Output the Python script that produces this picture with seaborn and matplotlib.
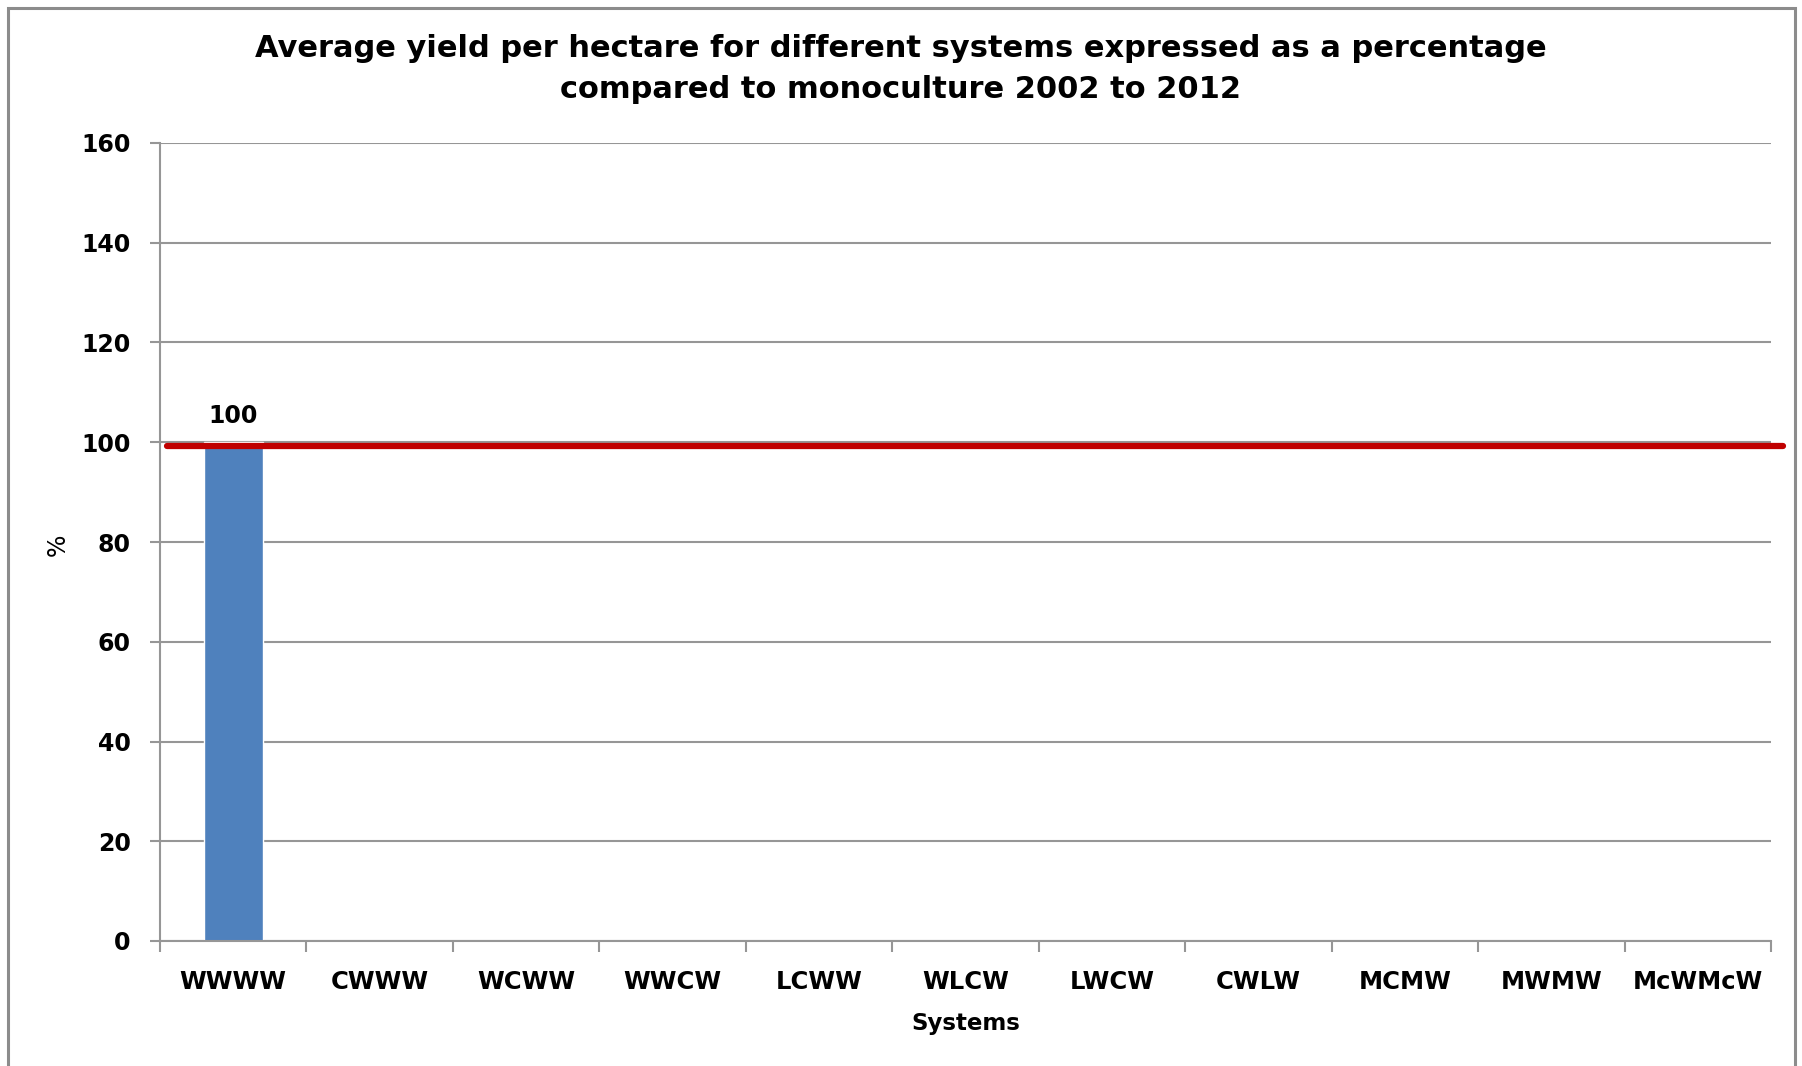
import numpy as np
import pandas as pd
import matplotlib
matplotlib.use("Agg")
import matplotlib.pyplot as plt
from matplotlib.patches import Rectangle
from matplotlib.ticker import FixedLocator
import seaborn as sns

# Yield per hectare relative to monoculture (%), 2002-2012
systems = ["WWWW", "CWWW", "WCWW", "WWCW", "LCWW", "WLCW",
           "LWCW", "CWLW", "MCMW", "MWMW", "McWMcW"]
yield_pct = [100, np.nan, np.nan, np.nan, np.nan, np.nan,
             np.nan, np.nan, np.nan, np.nan, np.nan]
monoculture_ref = 99.3
y_ticks = [0, 20, 40, 60, 80, 100, 120, 140, 160]

title_text = ("Average yield per hectare for different systems expressed as a percentage\n"
              "compared to monoculture 2002 to 2012")

df = pd.DataFrame({"system": systems, "pct": yield_pct})

sns.set_theme(style="white")
plt.rcParams["font.family"] = ["DejaVu Sans"]
plt.rcParams["text.color"] = "black"
plt.rcParams["xtick.color"] = "black"
plt.rcParams["ytick.color"] = "black"
plt.rcParams["axes.labelcolor"] = "black"

W, H, DPI = 1802, 1066, 100
fig = plt.figure(figsize=(W / DPI, H / DPI), dpi=DPI, facecolor="white")
ax = fig.add_axes([160 / W, 1 - 941 / H, (1771 - 160) / W, (941 - 143) / H])

sns.barplot(data=df, x="system", y="pct", order=systems, color="#4F81BD",
            saturation=1, width=0.4, ax=ax, errorbar=None)

ax.set_ylim(0, 160)
ax.set_xlim(-0.5, len(systems) - 0.5)
ax.yaxis.set_major_locator(FixedLocator(y_ticks))
ax.grid(axis="y", color="#969696", linewidth=1.5)
ax.set_axisbelow(True)

for side in ["top", "right"]:
    ax.spines[side].set_visible(False)
for side in ["left", "bottom"]:
    ax.spines[side].set_color("#969696")
    ax.spines[side].set_linewidth(1.5)

# category separators as x ticks between bars
ax.xaxis.set_minor_locator(FixedLocator(np.arange(-0.5, len(systems), 1.0)))
ax.tick_params(axis="x", which="minor", bottom=True, length=8, width=1.5,
               color="#969696", direction="out")
ax.tick_params(axis="x", which="major", bottom=False, length=0, pad=21,
               labelsize=17.5)
ax.tick_params(axis="y", which="major", left=True, length=7, width=1.5,
               color="#969696", direction="out", pad=14, labelsize=17)
for lbl in ax.get_xticklabels() + ax.get_yticklabels():
    lbl.set_fontweight("bold")
    lbl.set_color("black")

ax.set_xlabel("Systems", fontsize=16.5, fontweight="bold", labelpad=13)
ax.set_ylabel("%", fontsize=17)
ax.yaxis.set_label_coords(-0.056, 0.497)

# monoculture reference line
ax.axhline(monoculture_ref, xmin=0.0043, xmax=1.0075, color="#C00000",
           linewidth=4.5, clip_on=False, zorder=5)

for cont in ax.containers:
    ax.bar_label(cont, fmt="%g", padding=10, fontsize=17, fontweight="bold",
                 color="black")

fig.suptitle(title_text, x=0.5, y=1 - 34 / H, va="top", fontsize=22,
             fontweight="bold", linespacing=1.5, color="black")

# outer chart frame
fig.patches.append(Rectangle((8 / W, -0.02), (1795 - 8) / W, 1.02 - 8 / H,
                             transform=fig.transFigure, fill=False,
                             edgecolor="#8C8C8C", linewidth=2.2))

fig.savefig("out.png", dpi=DPI, facecolor="white")
